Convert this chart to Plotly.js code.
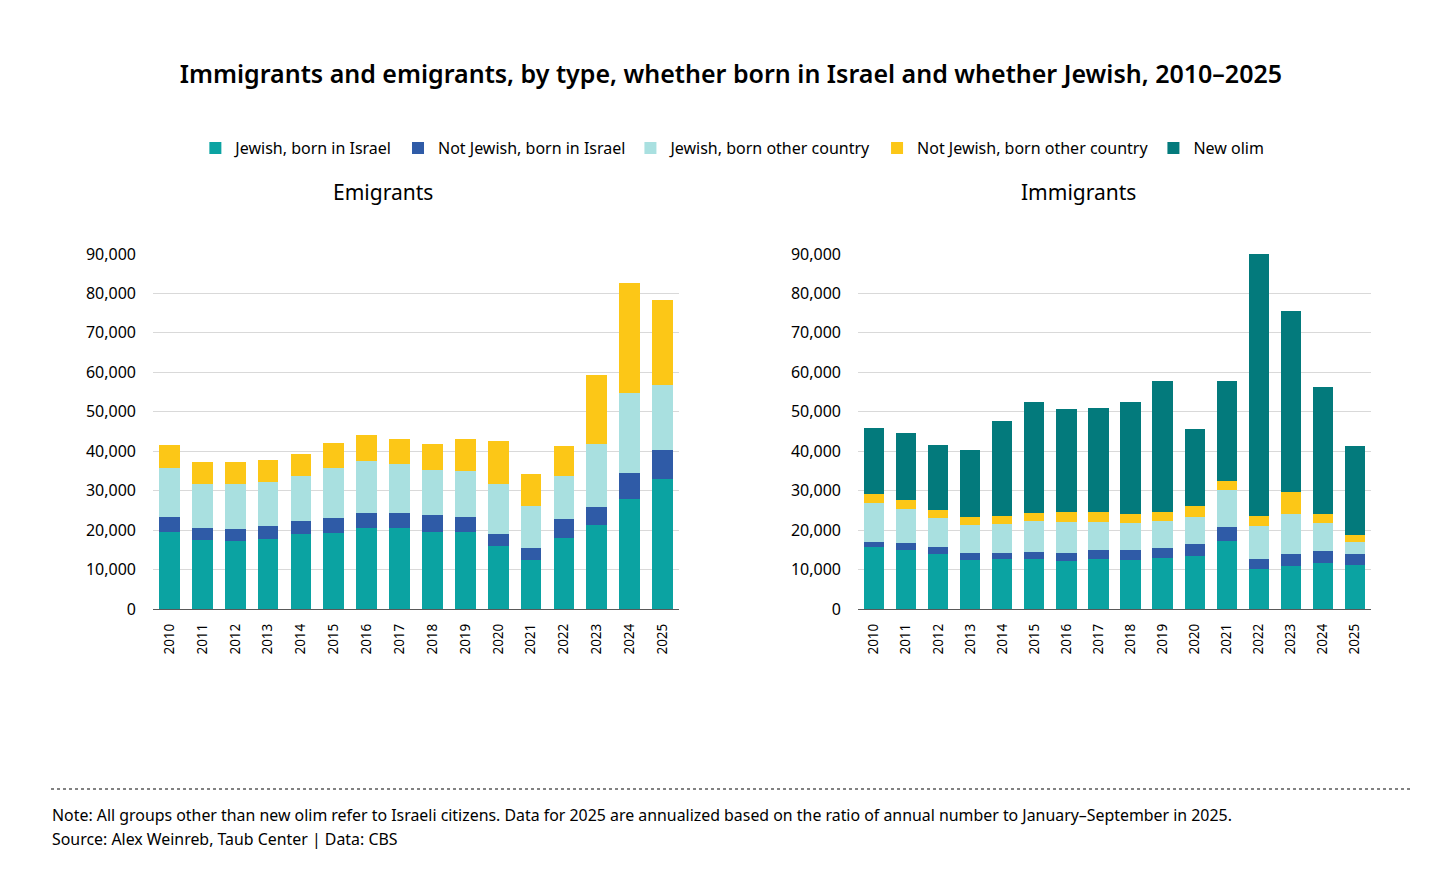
<!DOCTYPE html>
<html>
<head>
<meta charset="utf-8">
<script src="https://cdn.plot.ly/plotly-3.0.1.min.js"></script>
<style>
  body { margin: 0; background: white; }
  #chart { width: 1456px; height: 871px; }
</style>
</head>
<body>
<div id="chart"></div>
<script>
const years = ["2010", "2011", "2012", "2013", "2014", "2015", "2016", "2017",
	"2018", "2019", "2020", "2021", "2022", "2023", "2024", "2025"]

// Emigrants (Israeli citizens)
const emJewishIsrael = [19500, 17400, 17300, 17800, 19100, 19300, 20500, 20500,
	19600, 19500, 16000, 12500, 18000, 21400, 28000, 32900]
const emNotJewishIsrael = [3900, 3200, 3100, 3200, 3300, 3700, 3800, 3900,
	4200, 3900, 3100, 3000, 4800, 4500, 6500, 7500]
const emJewishOther = [12400, 11200, 11400, 11200, 11300, 12800, 13100, 12300,
	11500, 11600, 12600, 10700, 11000, 16000, 20300, 16400]
const emNotJewishOther = [5800, 5400, 5400, 5700, 5700, 6300, 6600, 6500,
	6600, 8200, 11000, 8100, 7600, 17300, 27900, 21600]

// Immigrants
const imJewishIsrael = [15600, 15000, 14000, 12500, 12700, 12700, 12200, 12700,
	12500, 13000, 13500, 17300, 10100, 10800, 11700, 11100]
const imNotJewishIsrael = [1500, 1800, 1700, 1800, 1600, 1800, 2100, 2300,
	2400, 2400, 2900, 3500, 2700, 3100, 2900, 2800]
const imJewishOther = [9800, 8600, 7400, 7100, 7300, 7700, 7800, 7100,
	7000, 6900, 7000, 9400, 8300, 10100, 7200, 3200]
const imNotJewishOther = [2300, 2200, 2100, 1900, 2000, 2200, 2600, 2600,
	2300, 2400, 2600, 2300, 2500, 5600, 2400, 1600]
const imNewOlim = [16700, 16900, 16500, 16900, 24100, 28000, 26000, 26300,
	28200, 33200, 19600, 25400, 66500, 46000, 32200, 22700]

const seriesNames = ["Jewish, born in Israel", "Not Jewish, born in Israel",
	"Jewish, born other country", "Not Jewish, born other country", "New olim"]
const seriesColors = ["#0ba3a2", "#2f5ba7", "#a9e0e0", "#fcc717", "#037a7c"]

const font = "Noto Sans, Open Sans, sans-serif"

var data = []

var emigrants = [emJewishIsrael, emNotJewishIsrael, emJewishOther, emNotJewishOther]
for (var i = 0; i < emigrants.length; ++i)
{
	data.push({
		type: "bar",
		name: seriesNames[i],
		x: years,
		y: emigrants[i],
		xaxis: "x",
		yaxis: "y",
		legendgroup: "s" + i,
		showlegend: false,
		marker: { color: seriesColors[i] }
	})
}

var immigrants = [imJewishIsrael, imNotJewishIsrael, imJewishOther, imNotJewishOther, imNewOlim]
for (var i = 0; i < immigrants.length; ++i)
{
	data.push({
		type: "bar",
		name: seriesNames[i],
		x: years,
		y: immigrants[i],
		xaxis: "x2",
		yaxis: "y2",
		legendgroup: "s" + i,
		showlegend: true,
		marker: { color: seriesColors[i] }
	})
}

var xaxisBase = {
	type: "category",
	tickangle: -90,
	tickfont: { family: font, size: 13.5, color: "#000" },
	showgrid: false,
	showline: true,
	linecolor: "#595959",
	linewidth: 1.3,
	ticks: "",
	ticklabelstandoff: 8
}

var yaxisBase = {
	range: [0, 90000],
	dtick: 10000,
	tickformat: ",",
	tickfont: { family: font, size: 16, color: "#000" },
	gridcolor: "#d9d9d9",
	gridwidth: 1,
	zeroline: false,
	showline: false,
	ticks: "",
	ticklabelstandoff: 16,
	fixedrange: true
}

var layout = {
	width: 1456,
	height: 871,
	margin: { l: 0, r: 0, t: 0, b: 0 },
	paper_bgcolor: "white",
	plot_bgcolor: "white",
	barmode: "stack",
	bargap: 0.37,
	font: { family: font, color: "#000" },
	title: {
		text: "Immigrants and emigrants, by type, whether born in Israel and whether Jewish, 2010–2025",
		font: { family: font, size: 25, color: "#000", weight: 600 },
		x: 0.502,
		xanchor: "center",
		y: 0.915,
		yanchor: "middle"
	},
	showlegend: true,
	legend: {
		orientation: "h",
		x: 0.503,
		xanchor: "center",
		y: 0.83,
		yanchor: "middle",
		font: { family: font, size: 16, color: "#000" },
		traceorder: "normal",
		itemwidth: 30
	},
	xaxis: Object.assign({}, xaxisBase, { domain: [0.1051, 0.4663], anchor: "y" }),
	yaxis: Object.assign({}, yaxisBase, { domain: [0.3008, 0.7084], anchor: "x" }),
	xaxis2: Object.assign({}, xaxisBase, { domain: [0.5893, 0.9416], anchor: "y2" }),
	yaxis2: Object.assign({}, yaxisBase, { domain: [0.3008, 0.7084], anchor: "x2" }),
	annotations: [
		{
			text: "Emigrants", xref: "paper", yref: "paper",
			x: 383 / 1456, y: 1 - 192 / 871, xanchor: "center", yanchor: "middle",
			showarrow: false, font: { family: font, size: 21, color: "#000" }
		},
		{
			text: "Immigrants", xref: "paper", yref: "paper",
			x: 1078 / 1456, y: 1 - 192 / 871, xanchor: "center", yanchor: "middle",
			showarrow: false, font: { family: font, size: 21, color: "#000" }
		},
		{
			text: "Note: All groups other than new olim refer to Israeli citizens. Data for 2025 are annualized based on the ratio of annual number to January–September in 2025.",
			xref: "paper", yref: "paper",
			x: 50 / 1456, y: 1 - 815 / 871, xanchor: "left", yanchor: "middle",
			showarrow: false, font: { family: font, size: 15.9, color: "#000" }
		},
		{
			text: "Source: Alex Weinreb, Taub Center | Data: CBS",
			xref: "paper", yref: "paper",
			x: 50 / 1456, y: 1 - 839 / 871, xanchor: "left", yanchor: "middle",
			showarrow: false, font: { family: font, size: 15.9, color: "#000" }
		}
	],
	shapes: [
		{
			type: "line", xref: "paper", yref: "paper",
			x0: 51 / 1456, x1: 1410 / 1456, y0: 1 - 789 / 871, y1: 1 - 789 / 871,
			line: { color: "#595959", width: 1.5, dash: "dot" }
		}
	]
}

var config = {
	displayModeBar: false,
	staticPlot: true
}

Plotly.newPlot("chart", data, layout, config)
</script>
</body>
</html>
